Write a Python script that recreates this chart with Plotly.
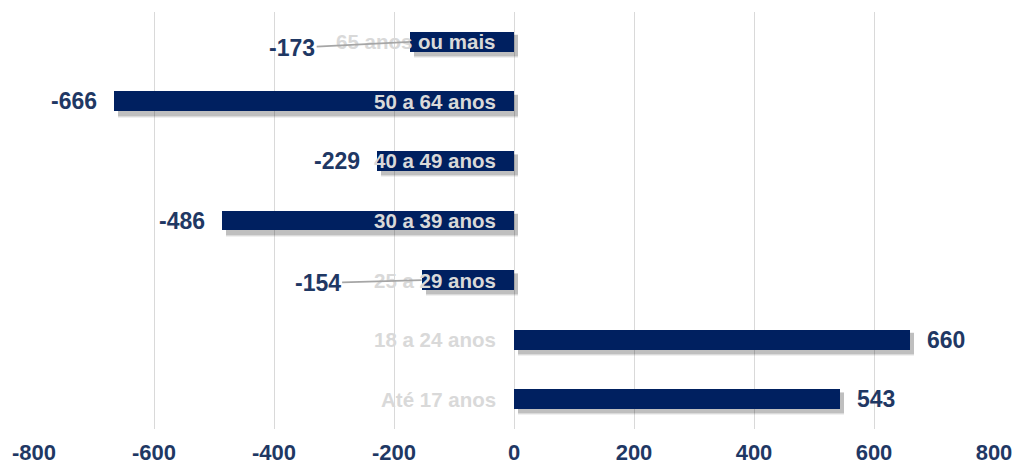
import plotly.graph_objects as go

# ---- data ----
categories = ["65 anos ou mais", "50 a 64 anos", "40 a 49 anos", "30 a 39 anos",
              "25 a 29 anos", "18 a 24 anos", "Até 17 anos"]
values = [-173, -666, -229, -486, -154, 660, 543]
tick_values = [-800, -600, -400, -200, 0, 200, 400, 600, 800]
tick_labels = ["-800", "-600", "-400", "-200", "0", "200", "400", "600", "800"]

# ---- style ----
BAR = "#002060"
VAL = "#1F3864"
CAT = "#D9D9D9"
GRID = "#D9D9D9"
FONT = "Liberation Sans, Arial, sans-serif"
BW = 0.335
PX_PER_UNIT = 960 / 1600.0

# manually moved data labels (pixel offsets of label centre from bar end)
moved = {"65 anos ou mais": (-118, 6), "25 a 29 anos": (-104, 3)}

fig = go.Figure()

# fake soft drop shadow
shift_x = 4 / PX_PER_UNIT
for extra, alpha, dy in [(0.06, 0.06, 0.075), (0.035, 0.09, 0.07), (0.01, 0.12, 0.065)]:
    fig.add_trace(go.Bar(
        y=categories, x=values, base=[shift_x] * len(values), orientation="h",
        width=BW + extra, offset=-(BW + extra) / 2 + dy,
        marker=dict(color=f"rgba(0,0,0,{alpha})", line=dict(width=0)),
        hoverinfo="skip", showlegend=False))

fig.add_trace(go.Bar(
    y=categories, x=values, orientation="h", width=BW, offset=-BW / 2,
    marker=dict(color=BAR, line=dict(width=0)), showlegend=False))

annotations = []
for c, v in zip(categories, values):
    # category label next to zero line
    annotations.append(dict(
        x=0, y=c, xref="x", yref="y", text=c, showarrow=False,
        xanchor="right", yanchor="middle", xshift=-16,
        font=dict(family=FONT, size=20.5, color=CAT, weight="bold")))
    # value label
    if c in moved:
        ax, ay = moved[c]
        annotations.append(dict(
            x=v, y=c, xref="x", yref="y", text=str(v), showarrow=True,
            arrowhead=0, arrowwidth=1.8, arrowcolor="#A6A6A6", standoff=0,
            ax=ax, ay=ay, font=dict(family=FONT, size=23, color=VAL, weight="bold")))
    else:
        annotations.append(dict(
            x=v, y=c, xref="x", yref="y", text=str(v), showarrow=False,
            xanchor="right" if v < 0 else "left", yanchor="middle",
            xshift=-15 if v < 0 else 15,
            font=dict(family=FONT, size=23, color=VAL, weight="bold")))

fig.update_layout(
    width=1019, height=468,
    margin=dict(l=34, r=25, t=12, b=39, autoexpand=False),
    paper_bgcolor="white", plot_bgcolor="white",
    barmode="overlay", bargap=0,
    annotations=annotations,
    xaxis=dict(range=[-800, 800], tickvals=tick_values, ticktext=tick_labels,
               showgrid=True, gridcolor=GRID, gridwidth=1,
               zeroline=True, zerolinecolor=GRID, zerolinewidth=1,
               showline=False, ticks="", ticklabelstandoff=8, automargin=False,
               tickfont=dict(family=FONT, size=22, color=VAL, weight="bold")),
    yaxis=dict(categoryorder="array", categoryarray=categories, autorange="reversed",
               showticklabels=False, showgrid=False, zeroline=False, showline=False,
               ticks="", automargin=False),
)

fig.write_html("out.html")
